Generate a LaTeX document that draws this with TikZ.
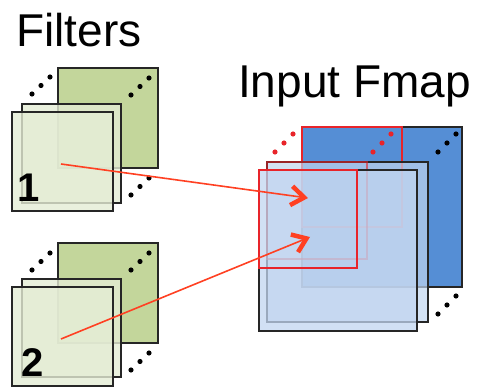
\documentclass[tikz,border=0pt]{standalone}
\usepackage{fontspec}
\setmainfont{Liberation Sans}
\usepackage{xcolor}
\usetikzlibrary{positioning,arrows.meta}

\definecolor{filtdark}{HTML}{C3D69B}
\definecolor{filtlight}{HTML}{E4ECD4}
\definecolor{mapdark}{HTML}{558ED5}
\definecolor{maplight}{HTML}{C1D5F0}
\definecolor{edgegray}{HTML}{262626}
\definecolor{winred}{HTML}{E8242A}
\definecolor{arrowred}{HTML}{FF4022}

\tikzset{
  sheet/.style={draw=edgegray, line width=1.5pt},
  window/.style={draw=winred, line width=1.5pt},
  dotsym/.style={fill=black},
  title/.style={font=\fontsize{46}{50}\selectfont, anchor=base west, inner sep=0pt},
  number/.style={font=\bfseries\fontsize{40}{44}\selectfont, anchor=base west, inner sep=0pt},
  mapto/.style={draw=arrowred, line width=1.6pt, -{Straight Barb[length=13pt,width=19pt,line width=4.5pt]}}
}

\begin{document}
\begin{tikzpicture}[x=1pt, y=-1pt]
\useasboundingbox (0,0) rectangle (491,390);

% Titles
\node[title] (filtlabel) at (16,47) {Filters};
\node[title] (maplabel) at (238,98) {Input Fmap};

% Filter 1: back sheet and dots
\draw[sheet, fill=filtdark] (58,68) rectangle (158,168);
\foreach \t in {0,1,2} {
  \fill[dotsym] (32+9*\t,94-8.5*\t) circle (2.6);
  \fill[dotsym] (131+9*\t,95-8.5*\t) circle (2.6);
  \fill[dotsym] (131+9*\t,195-8.5*\t) circle (2.6);
}
% Filter 1: middle and front sheets
\draw[sheet, fill=filtlight, fill opacity=0.8] (22,104) rectangle (121,203);
\draw[sheet, fill=filtlight, fill opacity=0.8] (12,112) rectangle (113,211);
\node[number] (num1) at (17.6,202) {1};
\coordinate (f1mid) at (61,164);

% Filter 2: back sheet and dots
\draw[sheet, fill=filtdark] (58,243) rectangle (158,343);
\foreach \t in {0,1,2} {
  \fill[dotsym] (32+9*\t,270-8.5*\t) circle (2.6);
  \fill[dotsym] (131+9*\t,270-8.5*\t) circle (2.6);
  \fill[dotsym] (131+9*\t,370-8.5*\t) circle (2.6);
}
% Filter 2: middle and front sheets
\draw[sheet, fill=filtlight, fill opacity=0.8] (22,279) rectangle (121,377);
\draw[sheet, fill=filtlight, fill opacity=0.8] (12,287) rectangle (113,386);
\node[number] (num2) at (20.8,377) {2};
\coordinate (f2mid) at (61,339);

% Input fmap: back sheet, window and dots
\draw[sheet, fill=mapdark] (302,127) rectangle (462,287);
\draw[window] (302,127) rectangle (402,227);
\foreach \t in {0,1,2} {
  \fill[winred] (275+9*\t,152-9*\t) circle (2.6);
  \fill[winred] (373+9*\t,152-9*\t) circle (2.6);
  \fill[dotsym] (438+9*\t,152-9*\t) circle (2.6);
  \fill[dotsym] (438+9*\t,314-9*\t) circle (2.6);
}
% Input fmap: middle and front sheets with windows
\draw[sheet, fill=maplight, fill opacity=0.7] (267,162) rectangle (428,322);
\draw[window, draw opacity=0.6] (267,162) rectangle (367,259);
\draw[sheet, fill=maplight, fill opacity=0.75] (259,170) rectangle (417,331);
\draw[window] (259,170) rectangle (357,268);
\coordinate (in1) at (308,198);
\coordinate (in2) at (310,237);

% Filters slide over the fmap
\draw[mapto] (f1mid) -- (in1);
\draw[mapto] (f2mid) -- (in2);
\end{tikzpicture}
\end{document}
